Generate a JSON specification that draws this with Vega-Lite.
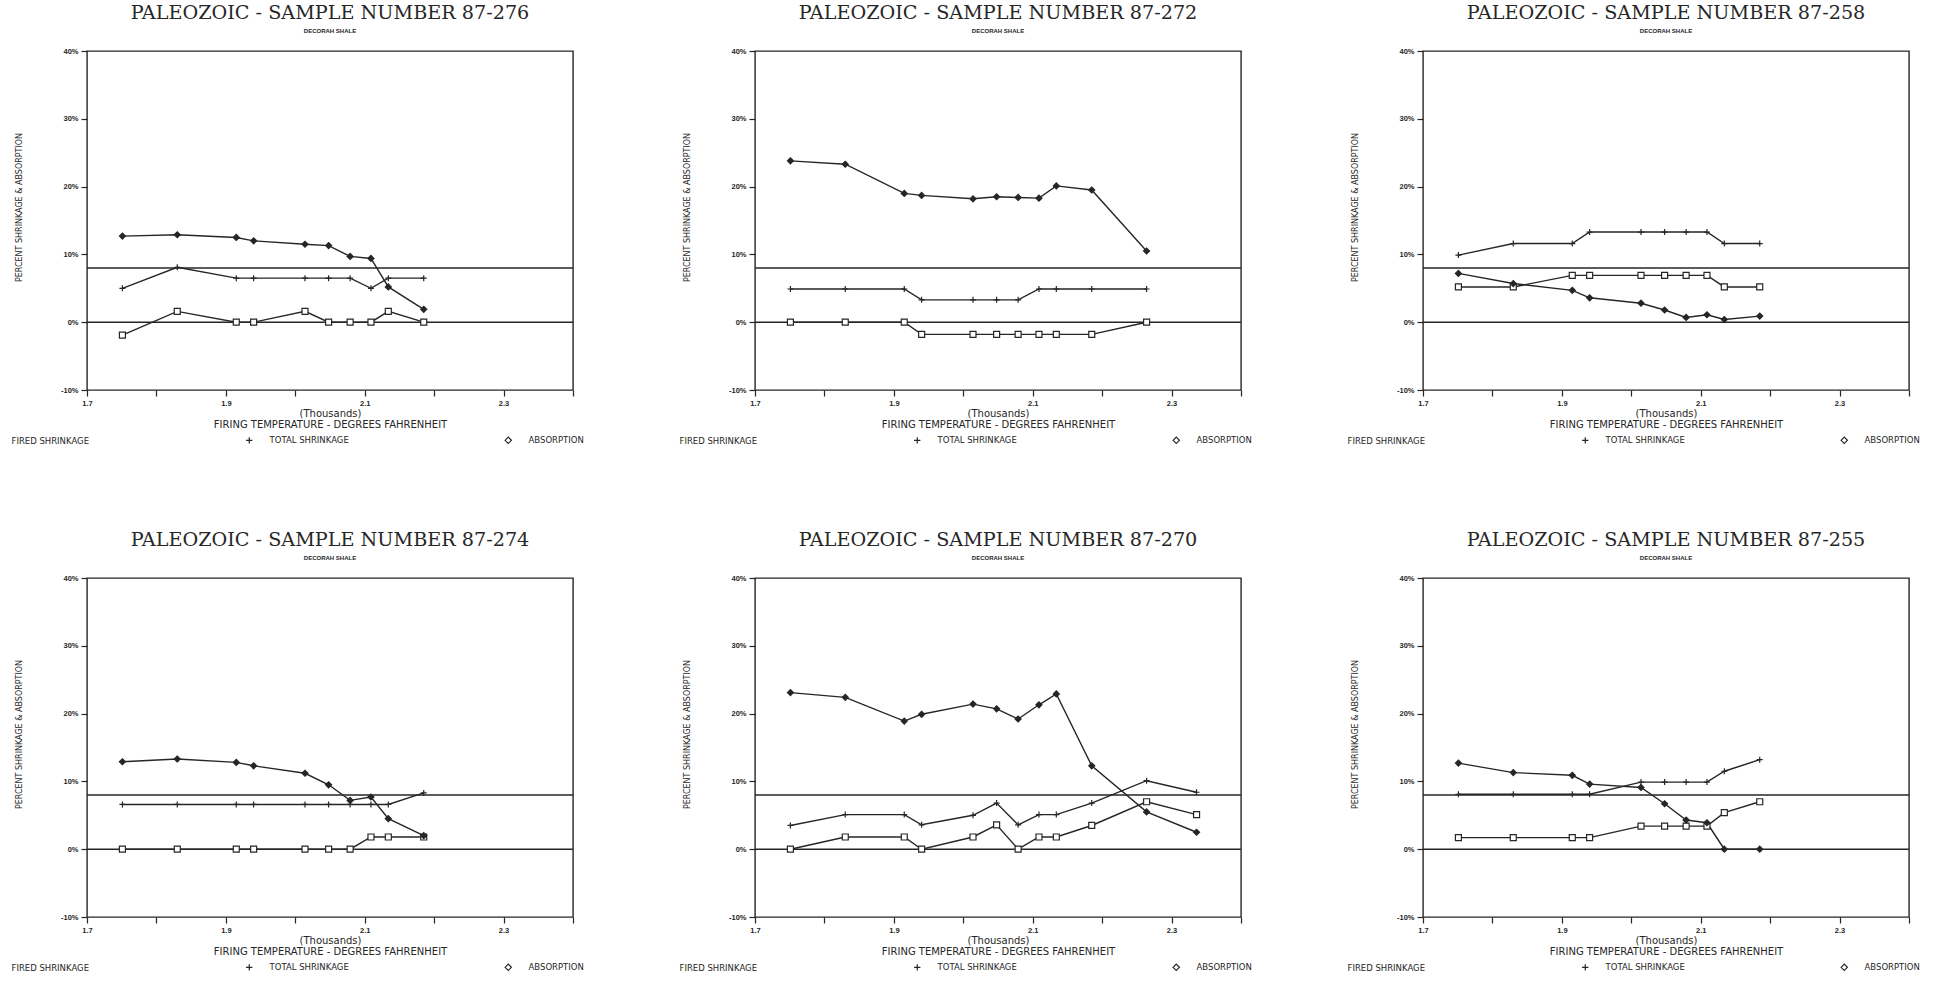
{
"$schema": "https://vega.github.io/schema/vega-lite/v6.json",
"background": "white",
"padding": {"left": -14, "top": 3, "right": 5, "bottom": 2},
"datasets": {
"refs": [{"ref": 0}, {"ref": 8}],
"shrink": [
{"sample":"87-276","temp":1751,"FIRED SHRINKAGE":-1.9,"TOTAL SHRINKAGE":5.0,"ABSORPTION":12.7},
{"sample":"87-276","temp":1830,"FIRED SHRINKAGE":1.6,"TOTAL SHRINKAGE":8.1,"ABSORPTION":12.9},
{"sample":"87-276","temp":1915,"FIRED SHRINKAGE":0,"TOTAL SHRINKAGE":6.5,"ABSORPTION":12.5},
{"sample":"87-276","temp":1940,"FIRED SHRINKAGE":0,"TOTAL SHRINKAGE":6.5,"ABSORPTION":12.0},
{"sample":"87-276","temp":2014,"FIRED SHRINKAGE":1.6,"TOTAL SHRINKAGE":6.5,"ABSORPTION":11.5},
{"sample":"87-276","temp":2048,"FIRED SHRINKAGE":0,"TOTAL SHRINKAGE":6.5,"ABSORPTION":11.3},
{"sample":"87-276","temp":2079,"FIRED SHRINKAGE":0,"TOTAL SHRINKAGE":6.5,"ABSORPTION":9.7},
{"sample":"87-276","temp":2109,"FIRED SHRINKAGE":0,"TOTAL SHRINKAGE":5.0,"ABSORPTION":9.4},
{"sample":"87-276","temp":2134,"FIRED SHRINKAGE":1.6,"TOTAL SHRINKAGE":6.5,"ABSORPTION":5.2},
{"sample":"87-276","temp":2185,"FIRED SHRINKAGE":0,"TOTAL SHRINKAGE":6.5,"ABSORPTION":1.9},
{"sample":"87-272","temp":1751,"FIRED SHRINKAGE":0,"TOTAL SHRINKAGE":4.9,"ABSORPTION":23.8},
{"sample":"87-272","temp":1830,"FIRED SHRINKAGE":0,"TOTAL SHRINKAGE":4.9,"ABSORPTION":23.3},
{"sample":"87-272","temp":1915,"FIRED SHRINKAGE":0,"TOTAL SHRINKAGE":4.9,"ABSORPTION":19.0},
{"sample":"87-272","temp":1940,"FIRED SHRINKAGE":-1.8,"TOTAL SHRINKAGE":3.3,"ABSORPTION":18.7},
{"sample":"87-272","temp":2014,"FIRED SHRINKAGE":-1.8,"TOTAL SHRINKAGE":3.3,"ABSORPTION":18.2},
{"sample":"87-272","temp":2048,"FIRED SHRINKAGE":-1.8,"TOTAL SHRINKAGE":3.3,"ABSORPTION":18.5},
{"sample":"87-272","temp":2079,"FIRED SHRINKAGE":-1.8,"TOTAL SHRINKAGE":3.3,"ABSORPTION":18.4},
{"sample":"87-272","temp":2109,"FIRED SHRINKAGE":-1.8,"TOTAL SHRINKAGE":4.9,"ABSORPTION":18.3},
{"sample":"87-272","temp":2134,"FIRED SHRINKAGE":-1.8,"TOTAL SHRINKAGE":4.9,"ABSORPTION":20.1},
{"sample":"87-272","temp":2185,"FIRED SHRINKAGE":-1.8,"TOTAL SHRINKAGE":4.9,"ABSORPTION":19.5},
{"sample":"87-272","temp":2264,"FIRED SHRINKAGE":0,"TOTAL SHRINKAGE":4.9,"ABSORPTION":10.5},
{"sample":"87-258","temp":1751,"FIRED SHRINKAGE":5.2,"TOTAL SHRINKAGE":9.9,"ABSORPTION":7.2},
{"sample":"87-258","temp":1830,"FIRED SHRINKAGE":5.2,"TOTAL SHRINKAGE":11.6,"ABSORPTION":5.7},
{"sample":"87-258","temp":1915,"FIRED SHRINKAGE":6.9,"TOTAL SHRINKAGE":11.6,"ABSORPTION":4.7},
{"sample":"87-258","temp":1940,"FIRED SHRINKAGE":6.9,"TOTAL SHRINKAGE":13.3,"ABSORPTION":3.6},
{"sample":"87-258","temp":2014,"FIRED SHRINKAGE":6.9,"TOTAL SHRINKAGE":13.3,"ABSORPTION":2.8},
{"sample":"87-258","temp":2048,"FIRED SHRINKAGE":6.9,"TOTAL SHRINKAGE":13.3,"ABSORPTION":1.8},
{"sample":"87-258","temp":2079,"FIRED SHRINKAGE":6.9,"TOTAL SHRINKAGE":13.3,"ABSORPTION":0.7},
{"sample":"87-258","temp":2109,"FIRED SHRINKAGE":6.9,"TOTAL SHRINKAGE":13.3,"ABSORPTION":1.1},
{"sample":"87-258","temp":2134,"FIRED SHRINKAGE":5.2,"TOTAL SHRINKAGE":11.6,"ABSORPTION":0.4},
{"sample":"87-258","temp":2185,"FIRED SHRINKAGE":5.2,"TOTAL SHRINKAGE":11.6,"ABSORPTION":0.9},
{"sample":"87-274","temp":1751,"FIRED SHRINKAGE":0,"TOTAL SHRINKAGE":6.6,"ABSORPTION":12.9},
{"sample":"87-274","temp":1830,"FIRED SHRINKAGE":0,"TOTAL SHRINKAGE":6.6,"ABSORPTION":13.3},
{"sample":"87-274","temp":1915,"FIRED SHRINKAGE":0,"TOTAL SHRINKAGE":6.6,"ABSORPTION":12.8},
{"sample":"87-274","temp":1940,"FIRED SHRINKAGE":0,"TOTAL SHRINKAGE":6.6,"ABSORPTION":12.3},
{"sample":"87-274","temp":2014,"FIRED SHRINKAGE":0,"TOTAL SHRINKAGE":6.6,"ABSORPTION":11.2},
{"sample":"87-274","temp":2048,"FIRED SHRINKAGE":0,"TOTAL SHRINKAGE":6.6,"ABSORPTION":9.5},
{"sample":"87-274","temp":2079,"FIRED SHRINKAGE":0,"TOTAL SHRINKAGE":6.6,"ABSORPTION":7.2},
{"sample":"87-274","temp":2109,"FIRED SHRINKAGE":1.8,"TOTAL SHRINKAGE":6.6,"ABSORPTION":7.7},
{"sample":"87-274","temp":2134,"FIRED SHRINKAGE":1.8,"TOTAL SHRINKAGE":6.6,"ABSORPTION":4.5},
{"sample":"87-274","temp":2185,"FIRED SHRINKAGE":1.8,"TOTAL SHRINKAGE":8.3,"ABSORPTION":2.0},
{"sample":"87-270","temp":1751,"FIRED SHRINKAGE":0,"TOTAL SHRINKAGE":3.5,"ABSORPTION":23.1},
{"sample":"87-270","temp":1830,"FIRED SHRINKAGE":1.8,"TOTAL SHRINKAGE":5.1,"ABSORPTION":22.4},
{"sample":"87-270","temp":1915,"FIRED SHRINKAGE":1.8,"TOTAL SHRINKAGE":5.1,"ABSORPTION":18.9},
{"sample":"87-270","temp":1940,"FIRED SHRINKAGE":0,"TOTAL SHRINKAGE":3.6,"ABSORPTION":19.9},
{"sample":"87-270","temp":2014,"FIRED SHRINKAGE":1.8,"TOTAL SHRINKAGE":5.0,"ABSORPTION":21.4},
{"sample":"87-270","temp":2048,"FIRED SHRINKAGE":3.6,"TOTAL SHRINKAGE":6.8,"ABSORPTION":20.7},
{"sample":"87-270","temp":2079,"FIRED SHRINKAGE":0,"TOTAL SHRINKAGE":3.6,"ABSORPTION":19.2},
{"sample":"87-270","temp":2109,"FIRED SHRINKAGE":1.8,"TOTAL SHRINKAGE":5.1,"ABSORPTION":21.3},
{"sample":"87-270","temp":2134,"FIRED SHRINKAGE":1.8,"TOTAL SHRINKAGE":5.1,"ABSORPTION":22.9},
{"sample":"87-270","temp":2185,"FIRED SHRINKAGE":3.5,"TOTAL SHRINKAGE":6.8,"ABSORPTION":12.3},
{"sample":"87-270","temp":2264,"FIRED SHRINKAGE":7.0,"TOTAL SHRINKAGE":10.1,"ABSORPTION":5.5},
{"sample":"87-270","temp":2336,"FIRED SHRINKAGE":5.1,"TOTAL SHRINKAGE":8.4,"ABSORPTION":2.5},
{"sample":"87-255","temp":1751,"FIRED SHRINKAGE":1.7,"TOTAL SHRINKAGE":8.1,"ABSORPTION":12.7},
{"sample":"87-255","temp":1830,"FIRED SHRINKAGE":1.7,"TOTAL SHRINKAGE":8.1,"ABSORPTION":11.3},
{"sample":"87-255","temp":1915,"FIRED SHRINKAGE":1.7,"TOTAL SHRINKAGE":8.1,"ABSORPTION":10.9},
{"sample":"87-255","temp":1940,"FIRED SHRINKAGE":1.7,"TOTAL SHRINKAGE":8.1,"ABSORPTION":9.6},
{"sample":"87-255","temp":2014,"FIRED SHRINKAGE":3.4,"TOTAL SHRINKAGE":9.9,"ABSORPTION":9.1},
{"sample":"87-255","temp":2048,"FIRED SHRINKAGE":3.4,"TOTAL SHRINKAGE":9.9,"ABSORPTION":6.7},
{"sample":"87-255","temp":2079,"FIRED SHRINKAGE":3.4,"TOTAL SHRINKAGE":9.9,"ABSORPTION":4.3},
{"sample":"87-255","temp":2109,"FIRED SHRINKAGE":3.4,"TOTAL SHRINKAGE":9.9,"ABSORPTION":3.9},
{"sample":"87-255","temp":2134,"FIRED SHRINKAGE":5.4,"TOTAL SHRINKAGE":11.5,"ABSORPTION":0},
{"sample":"87-255","temp":2185,"FIRED SHRINKAGE":7.0,"TOTAL SHRINKAGE":13.2,"ABSORPTION":0}
]
},
"columns": 3,
"spacing": {"row": 188, "column": 182},
"bounds": "flush",
"resolve": {"scale": {"shape": "independent"}, "legend": {"shape": "independent"}},
"concat": [
{"title": {"text": "PALEOZOIC - SAMPLE NUMBER 87-276", "subtitle": "DECORAH SHALE"}, "width": 486, "height": 339,
 "layer": [
  {"data": {"name": "refs"}, "mark": {"type": "rule", "color": "#262626", "strokeWidth": 1.4}, "encoding": {"y": {"field": "ref", "type": "quantitative", "title": "PERCENT SHRINKAGE & ABSORPTION", "scale": {"domain": [-10, 40], "nice": false, "zero": false}, "axis": {"values": [-10, 0, 10, 20, 30, 40], "labelExpr": "datum.value + '%'"}}}},
  {"data": {"name": "shrink"}, "transform": [{"filter": "datum.sample === '87-276'"}, {"fold": ["FIRED SHRINKAGE", "TOTAL SHRINKAGE", "ABSORPTION"], "as": ["series", "value"]}], "mark": {"type": "line", "color": "#262626", "strokeWidth": 1.4}, "encoding": {"x": {"field": "temp", "type": "quantitative", "title": ["(Thousands)", "FIRING TEMPERATURE - DEGREES FAHRENHEIT"], "scale": {"domain": [1700, 2400], "nice": false, "zero": false}, "axis": {"values": [1700, 1800, 1900, 2000, 2100, 2200, 2300, 2400], "labelExpr": "(datum.value - 1700) % 200 === 0 ? format(datum.value / 1000, '.1f') : ''"}}, "y": {"field": "value", "type": "quantitative", "title": "PERCENT SHRINKAGE & ABSORPTION"}, "detail": {"field": "series"}}},
  {"data": {"name": "shrink"}, "transform": [{"filter": "datum.sample === '87-276'"}, {"fold": ["FIRED SHRINKAGE", "TOTAL SHRINKAGE", "ABSORPTION"], "as": ["series", "value"]}], "mark": {"type": "point", "stroke": "#262626", "strokeWidth": 1.2, "opacity": 1, "size": 36}, "encoding": {"x": {"field": "temp", "type": "quantitative", "title": ["(Thousands)", "FIRING TEMPERATURE - DEGREES FAHRENHEIT"]}, "y": {"field": "value", "type": "quantitative", "title": "PERCENT SHRINKAGE & ABSORPTION"}, "shape": {"field": "series", "type": "nominal", "scale": {"domain": ["FIRED SHRINKAGE", "TOTAL SHRINKAGE", "ABSORPTION"], "range": ["square", "M-1,0H1M0,-1V1", "diamond"]}, "legend": {"title": null, "encoding": {"symbols": {"stroke": {"value": "#262626"}, "strokeWidth": {"value": 1.2}, "fill": {"value": "white"}, "opacity": {"value": {"expr": "datum.value === 'FIRED SHRINKAGE' ? 0 : 1"}}}}}}, "fill": {"condition": {"test": "datum.series === 'ABSORPTION'", "value": "#262626"}, "value": "white"}}}
 ]},
{"title": {"text": "PALEOZOIC - SAMPLE NUMBER 87-272", "subtitle": "DECORAH SHALE"}, "width": 486, "height": 339,
 "layer": [
  {"data": {"name": "refs"}, "mark": {"type": "rule", "color": "#262626", "strokeWidth": 1.4}, "encoding": {"y": {"field": "ref", "type": "quantitative", "title": "PERCENT SHRINKAGE & ABSORPTION", "scale": {"domain": [-10, 40], "nice": false, "zero": false}, "axis": {"values": [-10, 0, 10, 20, 30, 40], "labelExpr": "datum.value + '%'"}}}},
  {"data": {"name": "shrink"}, "transform": [{"filter": "datum.sample === '87-272'"}, {"fold": ["FIRED SHRINKAGE", "TOTAL SHRINKAGE", "ABSORPTION"], "as": ["series", "value"]}], "mark": {"type": "line", "color": "#262626", "strokeWidth": 1.4}, "encoding": {"x": {"field": "temp", "type": "quantitative", "title": ["(Thousands)", "FIRING TEMPERATURE - DEGREES FAHRENHEIT"], "scale": {"domain": [1700, 2400], "nice": false, "zero": false}, "axis": {"values": [1700, 1800, 1900, 2000, 2100, 2200, 2300, 2400], "labelExpr": "(datum.value - 1700) % 200 === 0 ? format(datum.value / 1000, '.1f') : ''"}}, "y": {"field": "value", "type": "quantitative", "title": "PERCENT SHRINKAGE & ABSORPTION"}, "detail": {"field": "series"}}},
  {"data": {"name": "shrink"}, "transform": [{"filter": "datum.sample === '87-272'"}, {"fold": ["FIRED SHRINKAGE", "TOTAL SHRINKAGE", "ABSORPTION"], "as": ["series", "value"]}], "mark": {"type": "point", "stroke": "#262626", "strokeWidth": 1.2, "opacity": 1, "size": 36}, "encoding": {"x": {"field": "temp", "type": "quantitative", "title": ["(Thousands)", "FIRING TEMPERATURE - DEGREES FAHRENHEIT"]}, "y": {"field": "value", "type": "quantitative", "title": "PERCENT SHRINKAGE & ABSORPTION"}, "shape": {"field": "series", "type": "nominal", "scale": {"domain": ["FIRED SHRINKAGE", "TOTAL SHRINKAGE", "ABSORPTION"], "range": ["square", "M-1,0H1M0,-1V1", "diamond"]}, "legend": {"title": null, "encoding": {"symbols": {"stroke": {"value": "#262626"}, "strokeWidth": {"value": 1.2}, "fill": {"value": "white"}, "opacity": {"value": {"expr": "datum.value === 'FIRED SHRINKAGE' ? 0 : 1"}}}}}}, "fill": {"condition": {"test": "datum.series === 'ABSORPTION'", "value": "#262626"}, "value": "white"}}}
 ]},
{"title": {"text": "PALEOZOIC - SAMPLE NUMBER 87-258", "subtitle": "DECORAH SHALE"}, "width": 486, "height": 339,
 "layer": [
  {"data": {"name": "refs"}, "mark": {"type": "rule", "color": "#262626", "strokeWidth": 1.4}, "encoding": {"y": {"field": "ref", "type": "quantitative", "title": "PERCENT SHRINKAGE & ABSORPTION", "scale": {"domain": [-10, 40], "nice": false, "zero": false}, "axis": {"values": [-10, 0, 10, 20, 30, 40], "labelExpr": "datum.value + '%'"}}}},
  {"data": {"name": "shrink"}, "transform": [{"filter": "datum.sample === '87-258'"}, {"fold": ["FIRED SHRINKAGE", "TOTAL SHRINKAGE", "ABSORPTION"], "as": ["series", "value"]}], "mark": {"type": "line", "color": "#262626", "strokeWidth": 1.4}, "encoding": {"x": {"field": "temp", "type": "quantitative", "title": ["(Thousands)", "FIRING TEMPERATURE - DEGREES FAHRENHEIT"], "scale": {"domain": [1700, 2400], "nice": false, "zero": false}, "axis": {"values": [1700, 1800, 1900, 2000, 2100, 2200, 2300, 2400], "labelExpr": "(datum.value - 1700) % 200 === 0 ? format(datum.value / 1000, '.1f') : ''"}}, "y": {"field": "value", "type": "quantitative", "title": "PERCENT SHRINKAGE & ABSORPTION"}, "detail": {"field": "series"}}},
  {"data": {"name": "shrink"}, "transform": [{"filter": "datum.sample === '87-258'"}, {"fold": ["FIRED SHRINKAGE", "TOTAL SHRINKAGE", "ABSORPTION"], "as": ["series", "value"]}], "mark": {"type": "point", "stroke": "#262626", "strokeWidth": 1.2, "opacity": 1, "size": 36}, "encoding": {"x": {"field": "temp", "type": "quantitative", "title": ["(Thousands)", "FIRING TEMPERATURE - DEGREES FAHRENHEIT"]}, "y": {"field": "value", "type": "quantitative", "title": "PERCENT SHRINKAGE & ABSORPTION"}, "shape": {"field": "series", "type": "nominal", "scale": {"domain": ["FIRED SHRINKAGE", "TOTAL SHRINKAGE", "ABSORPTION"], "range": ["square", "M-1,0H1M0,-1V1", "diamond"]}, "legend": {"title": null, "encoding": {"symbols": {"stroke": {"value": "#262626"}, "strokeWidth": {"value": 1.2}, "fill": {"value": "white"}, "opacity": {"value": {"expr": "datum.value === 'FIRED SHRINKAGE' ? 0 : 1"}}}}}}, "fill": {"condition": {"test": "datum.series === 'ABSORPTION'", "value": "#262626"}, "value": "white"}}}
 ]},
{"title": {"text": "PALEOZOIC - SAMPLE NUMBER 87-274", "subtitle": "DECORAH SHALE"}, "width": 486, "height": 339,
 "layer": [
  {"data": {"name": "refs"}, "mark": {"type": "rule", "color": "#262626", "strokeWidth": 1.4}, "encoding": {"y": {"field": "ref", "type": "quantitative", "title": "PERCENT SHRINKAGE & ABSORPTION", "scale": {"domain": [-10, 40], "nice": false, "zero": false}, "axis": {"values": [-10, 0, 10, 20, 30, 40], "labelExpr": "datum.value + '%'"}}}},
  {"data": {"name": "shrink"}, "transform": [{"filter": "datum.sample === '87-274'"}, {"fold": ["FIRED SHRINKAGE", "TOTAL SHRINKAGE", "ABSORPTION"], "as": ["series", "value"]}], "mark": {"type": "line", "color": "#262626", "strokeWidth": 1.4}, "encoding": {"x": {"field": "temp", "type": "quantitative", "title": ["(Thousands)", "FIRING TEMPERATURE - DEGREES FAHRENHEIT"], "scale": {"domain": [1700, 2400], "nice": false, "zero": false}, "axis": {"values": [1700, 1800, 1900, 2000, 2100, 2200, 2300, 2400], "labelExpr": "(datum.value - 1700) % 200 === 0 ? format(datum.value / 1000, '.1f') : ''"}}, "y": {"field": "value", "type": "quantitative", "title": "PERCENT SHRINKAGE & ABSORPTION"}, "detail": {"field": "series"}}},
  {"data": {"name": "shrink"}, "transform": [{"filter": "datum.sample === '87-274'"}, {"fold": ["FIRED SHRINKAGE", "TOTAL SHRINKAGE", "ABSORPTION"], "as": ["series", "value"]}], "mark": {"type": "point", "stroke": "#262626", "strokeWidth": 1.2, "opacity": 1, "size": 36}, "encoding": {"x": {"field": "temp", "type": "quantitative", "title": ["(Thousands)", "FIRING TEMPERATURE - DEGREES FAHRENHEIT"]}, "y": {"field": "value", "type": "quantitative", "title": "PERCENT SHRINKAGE & ABSORPTION"}, "shape": {"field": "series", "type": "nominal", "scale": {"domain": ["FIRED SHRINKAGE", "TOTAL SHRINKAGE", "ABSORPTION"], "range": ["square", "M-1,0H1M0,-1V1", "diamond"]}, "legend": {"title": null, "encoding": {"symbols": {"stroke": {"value": "#262626"}, "strokeWidth": {"value": 1.2}, "fill": {"value": "white"}, "opacity": {"value": {"expr": "datum.value === 'FIRED SHRINKAGE' ? 0 : 1"}}}}}}, "fill": {"condition": {"test": "datum.series === 'ABSORPTION'", "value": "#262626"}, "value": "white"}}}
 ]},
{"title": {"text": "PALEOZOIC - SAMPLE NUMBER 87-270", "subtitle": "DECORAH SHALE"}, "width": 486, "height": 339,
 "layer": [
  {"data": {"name": "refs"}, "mark": {"type": "rule", "color": "#262626", "strokeWidth": 1.4}, "encoding": {"y": {"field": "ref", "type": "quantitative", "title": "PERCENT SHRINKAGE & ABSORPTION", "scale": {"domain": [-10, 40], "nice": false, "zero": false}, "axis": {"values": [-10, 0, 10, 20, 30, 40], "labelExpr": "datum.value + '%'"}}}},
  {"data": {"name": "shrink"}, "transform": [{"filter": "datum.sample === '87-270'"}, {"fold": ["FIRED SHRINKAGE", "TOTAL SHRINKAGE", "ABSORPTION"], "as": ["series", "value"]}], "mark": {"type": "line", "color": "#262626", "strokeWidth": 1.4}, "encoding": {"x": {"field": "temp", "type": "quantitative", "title": ["(Thousands)", "FIRING TEMPERATURE - DEGREES FAHRENHEIT"], "scale": {"domain": [1700, 2400], "nice": false, "zero": false}, "axis": {"values": [1700, 1800, 1900, 2000, 2100, 2200, 2300, 2400], "labelExpr": "(datum.value - 1700) % 200 === 0 ? format(datum.value / 1000, '.1f') : ''"}}, "y": {"field": "value", "type": "quantitative", "title": "PERCENT SHRINKAGE & ABSORPTION"}, "detail": {"field": "series"}}},
  {"data": {"name": "shrink"}, "transform": [{"filter": "datum.sample === '87-270'"}, {"fold": ["FIRED SHRINKAGE", "TOTAL SHRINKAGE", "ABSORPTION"], "as": ["series", "value"]}], "mark": {"type": "point", "stroke": "#262626", "strokeWidth": 1.2, "opacity": 1, "size": 36}, "encoding": {"x": {"field": "temp", "type": "quantitative", "title": ["(Thousands)", "FIRING TEMPERATURE - DEGREES FAHRENHEIT"]}, "y": {"field": "value", "type": "quantitative", "title": "PERCENT SHRINKAGE & ABSORPTION"}, "shape": {"field": "series", "type": "nominal", "scale": {"domain": ["FIRED SHRINKAGE", "TOTAL SHRINKAGE", "ABSORPTION"], "range": ["square", "M-1,0H1M0,-1V1", "diamond"]}, "legend": {"title": null, "encoding": {"symbols": {"stroke": {"value": "#262626"}, "strokeWidth": {"value": 1.2}, "fill": {"value": "white"}, "opacity": {"value": {"expr": "datum.value === 'FIRED SHRINKAGE' ? 0 : 1"}}}}}}, "fill": {"condition": {"test": "datum.series === 'ABSORPTION'", "value": "#262626"}, "value": "white"}}}
 ]},
{"title": {"text": "PALEOZOIC - SAMPLE NUMBER 87-255", "subtitle": "DECORAH SHALE"}, "width": 486, "height": 339,
 "layer": [
  {"data": {"name": "refs"}, "mark": {"type": "rule", "color": "#262626", "strokeWidth": 1.4}, "encoding": {"y": {"field": "ref", "type": "quantitative", "title": "PERCENT SHRINKAGE & ABSORPTION", "scale": {"domain": [-10, 40], "nice": false, "zero": false}, "axis": {"values": [-10, 0, 10, 20, 30, 40], "labelExpr": "datum.value + '%'"}}}},
  {"data": {"name": "shrink"}, "transform": [{"filter": "datum.sample === '87-255'"}, {"fold": ["FIRED SHRINKAGE", "TOTAL SHRINKAGE", "ABSORPTION"], "as": ["series", "value"]}], "mark": {"type": "line", "color": "#262626", "strokeWidth": 1.4}, "encoding": {"x": {"field": "temp", "type": "quantitative", "title": ["(Thousands)", "FIRING TEMPERATURE - DEGREES FAHRENHEIT"], "scale": {"domain": [1700, 2400], "nice": false, "zero": false}, "axis": {"values": [1700, 1800, 1900, 2000, 2100, 2200, 2300, 2400], "labelExpr": "(datum.value - 1700) % 200 === 0 ? format(datum.value / 1000, '.1f') : ''"}}, "y": {"field": "value", "type": "quantitative", "title": "PERCENT SHRINKAGE & ABSORPTION"}, "detail": {"field": "series"}}},
  {"data": {"name": "shrink"}, "transform": [{"filter": "datum.sample === '87-255'"}, {"fold": ["FIRED SHRINKAGE", "TOTAL SHRINKAGE", "ABSORPTION"], "as": ["series", "value"]}], "mark": {"type": "point", "stroke": "#262626", "strokeWidth": 1.2, "opacity": 1, "size": 36}, "encoding": {"x": {"field": "temp", "type": "quantitative", "title": ["(Thousands)", "FIRING TEMPERATURE - DEGREES FAHRENHEIT"]}, "y": {"field": "value", "type": "quantitative", "title": "PERCENT SHRINKAGE & ABSORPTION"}, "shape": {"field": "series", "type": "nominal", "scale": {"domain": ["FIRED SHRINKAGE", "TOTAL SHRINKAGE", "ABSORPTION"], "range": ["square", "M-1,0H1M0,-1V1", "diamond"]}, "legend": {"title": null, "encoding": {"symbols": {"stroke": {"value": "#262626"}, "strokeWidth": {"value": 1.2}, "fill": {"value": "white"}, "opacity": {"value": {"expr": "datum.value === 'FIRED SHRINKAGE' ? 0 : 1"}}}}}}, "fill": {"condition": {"test": "datum.series === 'ABSORPTION'", "value": "#262626"}, "value": "white"}}}
 ]}
],
"config": {
 "view": {"stroke": "#262626", "strokeWidth": 1.4},
 "font": "DejaVu Sans",
 "axis": {"grid": false, "domain": false, "tickColor": "#262626", "tickWidth": 1.2, "tickSize": 6, "labelColor": "#262626", "labelFontSize": 7.5, "labelFont": "Liberation Sans", "labelFontWeight": "bold", "titleFont": "DejaVu Sans", "titleFontSize": 8, "titleFontWeight": "normal", "titleColor": "#262626", "labelOverlap": false},
 "axisY": {"labelPadding": 3, "titlePadding": 37, "titleY": 156},
 "axisX": {"labelPadding": 3, "titlePadding": 2, "titleFontSize": 10, "titleLineHeight": 10.5, "labelFlush": false},
 "legend": {"orient": "none", "legendX": -100, "legendY": 385, "direction": "horizontal", "columnPadding": 153, "labelFontSize": 8.5, "labelFont": "DejaVu Sans", "labelColor": "#262626", "labelOffset": 16, "symbolSize": 40},
 "title": {"font": "DejaVu Serif", "fontSize": 19.2, "fontWeight": "normal", "color": "#262626", "anchor": "middle", "frame": "group", "subtitleFont": "Liberation Sans", "subtitleFontSize": 6, "subtitleFontWeight": "bold", "subtitleColor": "#262626", "subtitlePadding": 5, "offset": 13}
}
}
